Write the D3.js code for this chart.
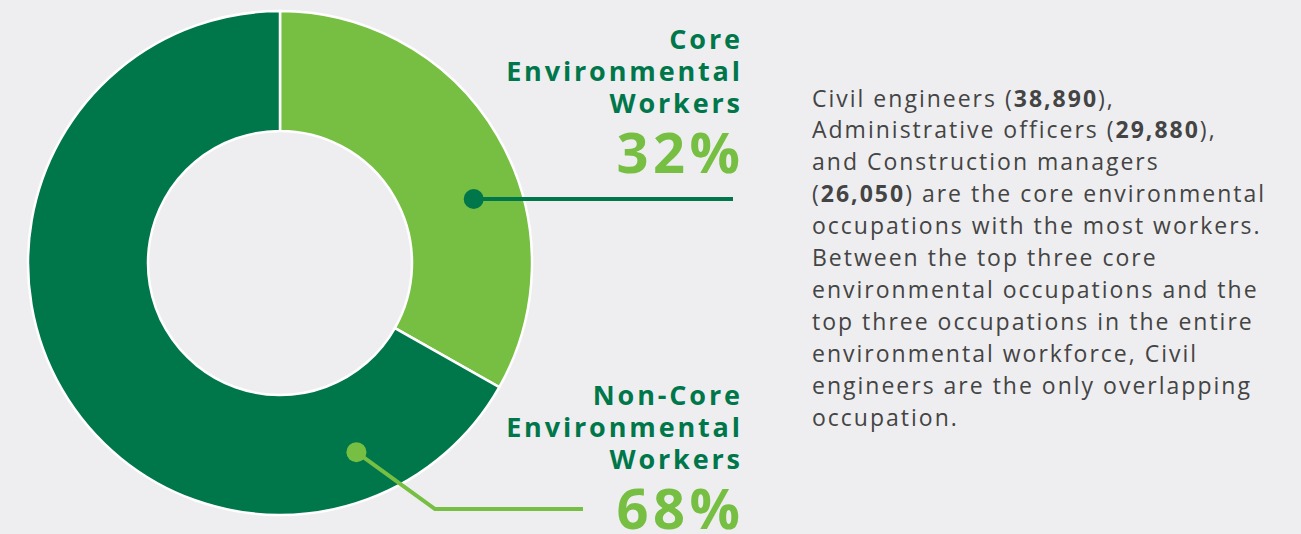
<!DOCTYPE html>
<html><head><meta charset="utf-8">
<script src="https://cdn.jsdelivr.net/npm/d3@7"></script>
<style>
html,body{margin:0;padding:0;background:#EEEEF0;}
svg{display:block;}
</style></head>
<body>
<svg id="c" width="1301" height="534"></svg>
<script>
// Data
const categories = ["Core Environmental Workers", "Non-Core Environmental Workers"];
const values = [33.2, 66.8];               // slice sizes as drawn
const percentLabels = ["32%", "68%"];
const labelLines = [["Core", "Environmental", "Workers"], ["Non-Core", "Environmental", "Workers"]];
const colors = ["#76BF43", "#00774A"];
const textLines = [
  [["Civil engineers (", false], ["38,890", true], ["),", false]],
  [["Administrative officers (", false], ["29,880", true], ["),", false]],
  [["and Construction managers", false]],
  [["(", false], ["26,050", true], [") are the core environmental", false]],
  [["occupations with the most workers.", false]],
  [["Between the top three core", false]],
  [["environmental occupations and the", false]],
  [["top three occupations in the entire", false]],
  [["environmental workforce, Civil", false]],
  [["engineers are the only overlapping", false]],
  [["occupation.", false]]
];

const svg = d3.select("#c");
const cx = 280, cy = 263, R = 252, r = 132;
const g = svg.append("g").attr("transform", `translate(${cx},${cy})`);

const pie = d3.pie().sort(null).value(d => d)(values);
const arc = d3.arc().innerRadius(r).outerRadius(R);

g.selectAll("path.slice").data(pie).join("path")
  .attr("class", "slice")
  .attr("d", arc)
  .attr("fill", (d, i) => colors[i])
  .attr("stroke", "#ffffff")
  .attr("stroke-width", 2.5);

// leader dots
const dotR = 204;
const dotFrac = [0.6, 0.16];
const pts = pie.map((d, i) => {
  const a = d.startAngle + (d.endAngle - d.startAngle) * dotFrac[i];
  return [cx + dotR * Math.sin(a), cy - dotR * Math.cos(a)];
});

// Core leader
svg.append("line")
  .attr("x1", pts[0][0]).attr("y1", pts[0][1])
  .attr("x2", 733).attr("y2", pts[0][1])
  .attr("stroke", colors[1]).attr("stroke-width", 4);
svg.append("circle").attr("cx", pts[0][0]).attr("cy", pts[0][1]).attr("r", 10).attr("fill", colors[1]);

// Non-core leader
svg.append("polyline")
  .attr("points", `${pts[1][0]},${pts[1][1]} 435,509 583,509`)
  .attr("fill", "none")
  .attr("stroke", colors[0]).attr("stroke-width", 4);
svg.append("circle").attr("cx", pts[1][0]).attr("cy", pts[1][1]).attr("r", 10).attr("fill", colors[0]);

// Labels
const lblFont = "'Open Sans', 'Noto Sans', sans-serif";
const labelX = 740;
const labelTop = [49.3, 405];
labelLines.forEach((lines, i) => {
  lines.forEach((t, j) => {
    svg.append("text")
      .attr("x", labelX + 2.85).attr("y", labelTop[i] + j * 32)
      .attr("text-anchor", "end")
      .attr("font-family", lblFont).attr("font-weight", 700)
      .attr("font-size", 27).attr("letter-spacing", 2.85)
      .attr("fill", colors[1]).text(t);
  });
  svg.append("text")
    .attr("x", labelX + 4.5).attr("y", labelTop[i] + 124)
    .attr("text-anchor", "end")
    .attr("font-family", lblFont).attr("font-weight", 700)
    .attr("font-size", 56).attr("letter-spacing", 4.5)
    .attr("fill", colors[0]).text(percentLabels[i]);
});

// Body text
textLines.forEach((parts, i) => {
  const t = svg.append("text")
    .attr("x", 812).attr("y", 106.5 + i * 31.9)
    .attr("font-family", lblFont).attr("font-size", 23)
    .attr("letter-spacing", 2.0).attr("fill", "#444444");
  parts.forEach(([s, b]) => {
    t.append("tspan").attr("font-weight", b ? 700 : 400).text(s);
  });
});
</script>
</body></html>
